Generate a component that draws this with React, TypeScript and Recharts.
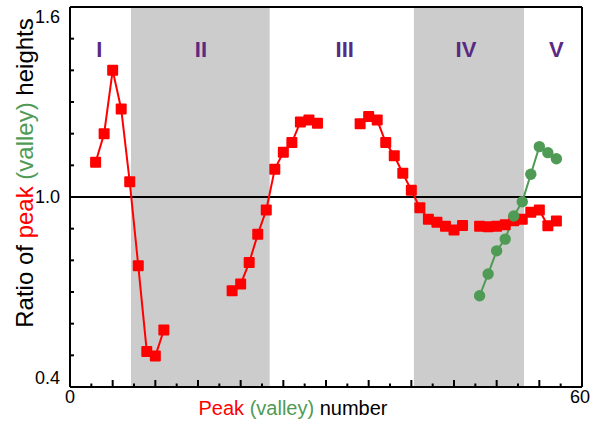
import React from 'react';
import {
  ComposedChart,
  Line,
  Scatter,
  XAxis,
  YAxis,
  ReferenceArea,
  ReferenceLine,
  Customized,
} from 'recharts';

// peak ratios (red squares), null = break in the line
const peakNumbers = [
  3, 4, 5, 6, 7, 8, 9, 10, 11, 12,
  19, 20, 21, 22, 23, 24, 25, 26, 27, 28, 29, 30,
  34, 35, 36, 37, 38, 39, 40, 41, 42, 43, 44, 45, 46, 47,
  48, 49, 50, 51, 52, 53, 54, 55, 56, 57,
];
const peakRatios = [
  1.11, 1.2, 1.4, 1.278, 1.048, 0.783, 0.512, 0.498, 0.58, null,
  0.704, 0.725, 0.793, 0.882, 0.959, 1.088, 1.141, 1.172, 1.237, 1.243, 1.233, null,
  1.231, 1.254, 1.243, 1.172, 1.13, 1.075, 1.021, 0.966, 0.93, 0.92, 0.908, 0.896, 0.91, null,
  0.908, 0.906, 0.908, 0.912, 0.925, 0.93, 0.952, 0.959, 0.909, 0.924,
];

// valley ratios (green circles)
const valleyNumbers = [48, 49, 50, 51, 52, 53, 54, 55, 56, 57];
const valleyRatios = [0.688, 0.757, 0.83, 0.867, 0.94, 0.985, 1.072, 1.159, 1.14, 1.121];

// shaded regions and their names
const shadedRegions = [
  [7.15, 23.4],
  [40.3, 53.2],
];
const regionNames = ['I', 'II', 'III', 'IV', 'V'];
const regionCenters = [3.43, 15.35, 32.2, 46.4, 57.0];
const regionLabelLevel = 1.443;

const xTicks = [
  0, 2.5, 5, 7.5, 10, 12.5, 15, 17.5, 20, 22.5, 25, 27.5, 30,
  32.5, 35, 37.5, 40, 42.5, 45, 47.5, 50, 52.5, 55, 57.5, 60,
];
const xLabels = [0, 60];
const yTicks = [0.4, 0.5, 0.6, 0.7, 0.8, 0.9, 1.0, 1.1, 1.2, 1.3, 1.4, 1.5, 1.6];
const yLabels = [0.4, 1.0, 1.6];

const peakData = peakNumbers.map((x, i) => ({ x, y: peakRatios[i] }));
const valleyData = valleyNumbers.map((x, i) => ({ x, y: valleyRatios[i] }));
const labelData = regionNames.map((name, i) => ({ name, x: regionCenters[i], y: regionLabelLevel }));

const RED = '#ff0000';
const GREEN = '#4f9b55';
const PURPLE = '#5a2a82';
const FONT = '"Liberation Sans", Arial, Helvetica, sans-serif';

const isMajorX = (v: number) => v % 5 === 0;

const BottomTick = ({ x, y, payload }: any) => {
  const v = payload.value;
  const len = isMajorX(v) ? 7 : 3.5;
  return (
    <g>
      <line x1={x} x2={x} y1={y} y2={y - len} stroke="#000" strokeWidth={2} />
      {xLabels.includes(v) && (
        <text x={v === 60 ? x - 2 : x} y={y + 15.5} textAnchor="middle" fontSize={18} fontFamily={FONT} fill="#000">
          {v}
        </text>
      )}
    </g>
  );
};

const TopTick = ({ x, y, payload }: any) => {
  const len = isMajorX(payload.value) ? 7 : 3.5;
  return <line x1={x} x2={x} y1={y} y2={y + len} stroke="#000" strokeWidth={2} />;
};

const LeftTick = ({ x, y, payload }: any) => {
  const v = payload.value;
  let dy = 6.4;
  if (v === 1.6) dy = 16.4;
  if (v === 0.4) dy = -2.6;
  return (
    <g>
      <line x1={x} x2={x + 4} y1={y} y2={y} stroke="#000" strokeWidth={2} />
      {yLabels.includes(v) && (
        <text x={x - 10} y={y + dy} textAnchor="end" fontSize={18} fontFamily={FONT} fill="#000">
          {v.toFixed(1)}
        </text>
      )}
    </g>
  );
};

const RightTick = ({ x, y }: any) => (
  <line x1={x} x2={x - 4} y1={y} y2={y} stroke="#000" strokeWidth={2} />
);

const RedSquare = (props: any) => {
  const { cx, cy, index } = props;
  if (!Number.isFinite(cx) || !Number.isFinite(cy) || peakRatios[index] == null) {
    return <g key={`sq-${index}`} />;
  }
  return <rect key={`sq-${index}`} x={cx - 5.5} y={cy - 5.5} width={11} height={11} rx={1} fill={RED} />;
};

const GreenDot = (props: any) => {
  const { cx, cy, index } = props;
  return <circle key={`gd-${index}`} cx={cx} cy={cy} r={5.7} fill={GREEN} />;
};

const RegionLabel = (props: any) => (
  <text x={props.cx} y={props.cy} textAnchor="middle" fontSize={22} fontWeight="bold" fontFamily={FONT} fill={PURPLE}>
    {props.payload.name}
  </text>
);

const AxisTitles = () => (
  <g fontFamily={FONT}>
    <text x={293} y={415} textAnchor="middle" fontSize={20}>
      <tspan fill={RED}>Peak</tspan>
      <tspan fill={GREEN}> (valley)</tspan>
      <tspan fill="#000"> number</tspan>
    </text>
    <text x={33} y={173} textAnchor="middle" fontSize={24} transform="rotate(-90 33 173)">
      <tspan fill="#000">Ratio of </tspan>
      <tspan fill={RED}>peak</tspan>
      <tspan fill={GREEN}> (valley)</tspan>
      <tspan fill="#000"> heights</tspan>
    </text>
  </g>
);

const App: React.FC = () => {
  const frame = { stroke: '#000', strokeWidth: 2 };
  return (
    <div style={{ position: 'absolute', left: 0, top: 0, width: 592, height: 422, background: '#fff' }}>
      <ComposedChart width={592} height={422} margin={{ top: 6, right: 9, bottom: 0, left: 0 }}>
        {shadedRegions.map(([a, b], i) => (
          <ReferenceArea key={`area-${i}`} x1={a} x2={b} fill="#cccccc" fillOpacity={1} stroke="none" />
        ))}
        <XAxis
          dataKey="x"
          type="number"
          domain={[0, 60]}
          ticks={xTicks}
          interval={0}
          tickSize={0}
          tickMargin={0}
          tickLine={false}
          axisLine={frame}
          tick={<BottomTick />}
          height={35}
        />
        <XAxis
          xAxisId="top"
          orientation="top"
          type="number"
          domain={[0, 60]}
          ticks={xTicks}
          interval={0}
          tickSize={0}
          tickMargin={0}
          tickLine={false}
          axisLine={frame}
          tick={<TopTick />}
          height={1}
        />
        <YAxis
          type="number"
          domain={[0.4, 1.6]}
          ticks={yTicks}
          interval={0}
          tickSize={0}
          tickMargin={0}
          tickLine={false}
          axisLine={frame}
          tick={<LeftTick />}
          width={70}
        />
        <YAxis
          yAxisId="right"
          orientation="right"
          type="number"
          domain={[0.4, 1.6]}
          ticks={yTicks}
          interval={0}
          tickSize={0}
          tickMargin={0}
          tickLine={false}
          axisLine={frame}
          tick={<RightTick />}
          width={1}
        />
        <ReferenceLine y={1} stroke="#000" strokeWidth={2} />
        <Line
          data={peakData}
          dataKey="y"
          stroke={RED}
          strokeWidth={2}
          dot={RedSquare}
          activeDot={false}
          connectNulls={false}
          isAnimationActive={false}
        />
        <Line
          data={valleyData}
          dataKey="y"
          stroke={GREEN}
          strokeWidth={2}
          dot={GreenDot}
          activeDot={false}
          isAnimationActive={false}
        />
        <Scatter data={labelData} dataKey="y" shape={RegionLabel} isAnimationActive={false} />
        <Customized component={AxisTitles} />
      </ComposedChart>
    </div>
  );
};

export default App;
